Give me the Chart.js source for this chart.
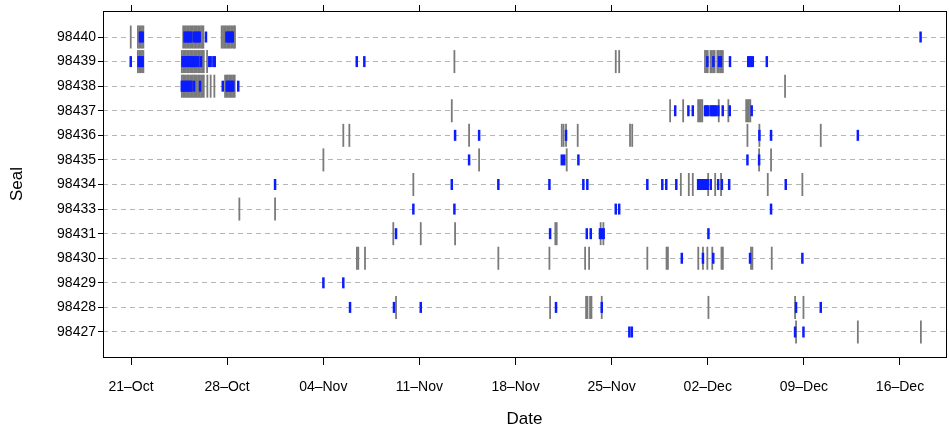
<!DOCTYPE html>
<html>
<head>
<meta charset="utf-8">
<title>Seal detections by date</title>
<script src="https://cdn.jsdelivr.net/npm/chart.js@4/dist/chart.umd.min.js"></script>
<style>
  html,body{margin:0;padding:0;background:#fff;}
  #wrap{width:949px;height:430px;position:relative;}
</style>
</head>
<body>
<div id="wrap"><canvas id="chart" width="949" height="430"></canvas></div>
<script>
// Data: days counted from 1 Oct (21 = 21-Oct, 32 = 01-Nov, 62 = 01-Dec)
const seals = ['98440','98439','98438','98437','98436','98435','98434','98433','98431','98430','98429','98428','98427'];

const tickDays = [21, 28, 35, 42, 49, 56, 63, 70, 77];
const tickLabels = ['21–Oct','28–Oct','04–Nov','11–Nov','18–Nov','25–Nov','02–Dec','09–Dec','16–Dec'];

// grey marks, one list per seal (same order as seals)
const greyTimes = [
  [20.98, 21.5, 21.6, 21.7, 21.8, 21.9, 24.8, 24.9, 25.0, 25.1, 25.2, 25.3, 25.4, 25.5, 25.6, 25.7, 25.8, 25.9, 26.0, 26.1, 26.2, 26.27, 27.6, 27.7, 27.8, 27.9, 28.0, 28.1, 28.2, 28.3, 28.4, 28.5, 28.57],
  [21.5, 21.6, 21.7, 21.8, 21.9, 24.7, 24.8, 24.9, 25.0, 25.1, 25.2, 25.3, 25.4, 25.5, 25.6, 25.7, 25.8, 25.9, 26.0, 26.1, 26.2, 26.3, 26.54, 44.55, 56.3, 56.55, 62.8, 62.9, 63.0, 63.2, 63.3, 63.4, 63.5, 63.7, 63.8, 63.9, 64.0, 64.1],
  [24.7, 24.8, 24.9, 25.0, 25.1, 25.2, 25.3, 25.4, 25.5, 25.6, 25.7, 25.8, 25.9, 26.0, 26.1, 26.2, 26.3, 26.56, 26.8, 27.07, 27.85, 27.95, 28.05, 28.15, 28.25, 28.35, 28.45, 28.55, 68.63],
  [44.36, 60.26, 61.21, 62.3, 62.4, 62.5, 62.6, 63.8, 64.5, 65.8, 65.9, 66.0, 66.1],
  [36.46, 36.9, 45.62, 52.37, 52.5, 52.68, 53.53, 57.34, 57.5, 65.89, 66.76, 71.23],
  [35.01, 46.35, 52.73, 66.74, 67.61],
  [41.56, 61.04, 61.62, 61.91, 63.03, 63.54, 63.97, 67.37, 69.89],
  [28.89, 31.49],
  [40.1, 42.1, 44.6, 51.9, 52.0, 55.2, 55.4],
  [37.45, 37.55, 38.04, 47.75, 51.47, 54.07, 54.36, 58.6, 60.0, 60.1, 62.31, 62.65, 62.97, 63.33, 64.0, 64.1, 66.15, 66.25, 67.66],
  [],
  [40.3, 51.52, 54.14, 54.24, 54.43, 54.53, 55.28, 63.05, 69.36, 69.97],
  [69.43, 73.93, 78.52]
];

// blue marks, one list per seal
const blueTimes = [
  [21.65, 21.75, 21.85, 24.9, 25.0, 25.1, 25.2, 25.3, 25.4, 25.6, 25.7, 25.8, 25.9, 26.0, 26.46, 27.95, 28.05, 28.15, 28.25, 28.35, 28.41, 78.5],
  [20.98, 21.55, 21.65, 21.75, 21.85, 24.75, 24.85, 24.95, 25.05, 25.15, 25.25, 25.35, 25.45, 25.55, 25.65, 25.75, 25.9, 26.1, 26.7, 26.8, 27.0, 27.1, 37.44, 37.99, 62.97, 63.41, 63.82, 63.96, 64.62, 65.95, 66.05, 66.15, 66.28, 67.3],
  [24.7, 24.8, 24.9, 25.0, 25.1, 25.2, 25.3, 25.4, 25.59, 26.03, 27.68, 27.97, 28.07, 28.17, 28.27, 28.37, 28.45, 28.81],
  [60.63, 61.59, 61.91, 62.8, 62.9, 63.0, 63.2, 63.3, 63.4, 63.5, 63.6, 63.77, 64.09, 64.6, 66.2],
  [44.6, 46.35, 52.68, 66.76, 67.61, 73.93],
  [45.62, 52.37, 52.55, 53.58, 65.89, 66.74],
  [31.49, 44.36, 47.75, 51.47, 53.94, 54.23, 58.6, 59.69, 59.98, 60.71, 62.3, 62.4, 62.5, 62.6, 62.7, 62.8, 62.9, 63.0, 63.22, 63.76, 64.03, 64.56, 68.68],
  [41.56, 44.55, 56.3, 56.55, 67.61],
  [40.3, 51.52, 54.19, 54.48, 55.15, 55.28, 55.42, 63.05],
  [61.11, 62.65, 63.4, 66.08, 69.89],
  [35.01, 36.46],
  [36.95, 40.15, 42.1, 51.95, 55.28, 69.43, 71.23],
  [57.29, 57.47, 69.36, 69.97]
];

// Helpers
const toPoints = (lists)=> lists.flatMap((days, i)=> days.map(d=> ({x:d, y:i})));
const FONT = '"Liberation Sans", Arial, sans-serif';
const noPad = (s)=> { s.paddingLeft = 0; s.paddingRight = 0; s.paddingTop = 0; s.paddingBottom = 0; };

// black box round the plot
const frame = {
  id:'frame',
  afterDraw(chart){
    const {ctx, chartArea:a} = chart;
    ctx.save();
    ctx.strokeStyle = '#000'; ctx.lineWidth = 1;
    ctx.strokeRect(Math.round(a.left)+0.5, Math.round(a.top)+0.5, Math.round(a.right-a.left), Math.round(a.bottom-a.top));
    ctx.restore();
  }
};

Chart.defaults.font.family = FONT;
Chart.defaults.color = '#000';

new Chart(document.getElementById('chart'), {
  type:'scatter',
  data:{
    datasets:[
      { label:'blue', data: toPoints(blueTimes), order:0, pointStyle:'line', rotation:90, pointRadius:5.5, borderColor:'#0b1cff', backgroundColor:'#0b1cff', borderWidth:2.5 },
      { label:'grey', data: toPoints(greyTimes), order:1, pointStyle:'line', rotation:90, pointRadius:11.5, borderColor:'#7a7a7a', backgroundColor:'#7a7a7a', borderWidth:1.8 }
    ]
  },
  options:{
    responsive:false, animation:false, events:[],
    layout:{ autoPadding:false, padding:{ left:0, right:3, top:0, bottom:0 } },
    plugins:{ legend:{ display:false }, tooltip:{ enabled:false } },
    scales:{
      x:{
        type:'linear', position:'bottom', min:18.96, max:80.35,
        afterBuildTicks: s=> { s.ticks = tickDays.map(v=> ({value:v})); },
        afterFit: s=> { s.height = 73; noPad(s); },
        ticks:{ callback:(v)=> tickLabels[tickDays.indexOf(v)] || '', font:{ size:14 }, padding:14, maxRotation:0, autoSkip:false },
        grid:{ drawOnChartArea:false, drawTicks:true, tickLength:8, tickColor:'#000', tickWidth:1 },
        border:{ display:false },
        title:{ display:true, text:'Date', font:{ size:17 }, padding:{ top:0, bottom:0 } }
      },
      x2:{
        type:'linear', position:'top', min:18.96, max:80.35,
        afterBuildTicks: s=> { s.ticks = tickDays.map(v=> ({value:v})); },
        afterFit: s=> { s.height = 11; noPad(s); },
        ticks:{ display:false },
        grid:{ drawOnChartArea:false, drawTicks:true, tickLength:6, tickColor:'#000', tickWidth:1 },
        border:{ display:false }
      },
      y:{
        type:'linear', reverse:true, min:-1.058, max:13.017,
        afterBuildTicks: s=> { s.ticks = seals.map((_, i)=> ({value:i})); },
        afterFit: s=> { s.width = 103; noPad(s); },
        ticks:{ callback:(v)=> seals[v] || '', font:{ size:14 }, padding:2, autoSkip:false },
        grid:{ color:'#b4b4b4', lineWidth:1, tickLength:5, tickColor:'#000', tickBorderDash:[] },
        border:{ display:false, dash:[5,4] },
        title:{ display:true, text:'Seal', font:{ size:17 }, padding:{ top:7, bottom:0 } }
      }
    }
  },
  plugins:[frame]
});
</script>
</body>
</html>
